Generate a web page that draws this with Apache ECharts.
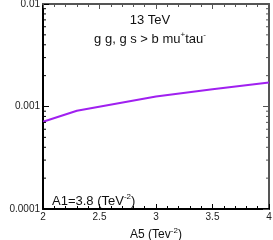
<!DOCTYPE html>
<html><head><meta charset="utf-8">
<script src="https://cdn.jsdelivr.net/npm/echarts@6/dist/echarts.min.js"></script>
<style>html,body{margin:0;padding:0;background:#fff}#c{width:273px;height:240px}</style>
</head><body><div id="c"></div>
<script>
const xValues = [2, 2.3, 3, 3.5, 4];
const sigma = [0.00071, 0.00091, 0.00125, 0.00147, 0.00171];
const yMinorTicks = [0.0002,0.0003,0.0004,0.0005,0.0006,0.0007,0.0008,0.0009,0.002,0.003,0.004,0.005,0.006,0.007,0.008,0.009];
const titleLine1 = '13 TeV';
const FONT = "'Liberation Sans', Arial, sans-serif";

const chart = echarts.init(document.getElementById('c'), null, {renderer: 'canvas'});
const sup = {fontSize: 8, padding: [0, 0, 8, 0], fontFamily: FONT, color: '#111'};

function tickSeries(xv, dir) {
  return {
    type: 'custom', xAxisIndex: 0, yAxisIndex: 0, silent: true, clip: false, z: 5,
    data: yMinorTicks.map(v => [xv, v]),
    renderItem: function (params, api) {
      const p = api.coord([api.value(0), api.value(1)]);
      return {type: 'line', shape: {x1: p[0], y1: p[1], x2: p[0] + dir * 3, y2: p[1]},
        style: {stroke: dir > 0 ? '#000' : '#555', lineWidth: 1}};
    }
  };
}

const option = {
  animation: false,
  textStyle: {fontFamily: FONT},
  grid: {left: 43, right: 4, top: 4, bottom: 31, containLabel: false, outerBoundsMode: 'none'},
  title: [
    {text: titleLine1, left: 145, top: 9, textAlign: 'center',
     textStyle: {fontSize: 13, fontWeight: 'normal', color: '#111', fontFamily: FONT}},
    {text: 'g g, g s > b mu{s|+}tau{s|-}', left: 145, top: 26, textAlign: 'center',
     textStyle: {fontSize: 13, fontWeight: 'normal', color: '#111', fontFamily: FONT, rich: {s: sup}}},
    {text: 'A1=3.8 (TeV{s|-2})', left: 47, top: 188,
     textStyle: {fontSize: 13, fontWeight: 'normal', color: '#111', fontFamily: FONT, rich: {s: sup}}}
  ],
  xAxis: [
    {type: 'value', min: 2, max: 4, interval: 0.5, position: 'bottom',
     name: 'A5 (Tev{s|-2})', nameLocation: 'middle', nameGap: 18,
     nameTextStyle: {fontSize: 12, color: '#111', fontFamily: FONT, rich: {s: sup}},
     axisLine: {show: true, lineStyle: {color: '#000', width: 2}},
     axisTick: {show: true, inside: true, length: 5, lineStyle: {color: '#000'}},
     minorTick: {show: true, splitNumber: 5, length: 3, lineStyle: {color: '#000'}},
     splitLine: {show: false},
     axisLabel: {fontSize: 10, color: '#222', margin: 3, fontFamily: FONT}},
    {type: 'value', min: 2, max: 4, interval: 0.5, position: 'top',
     axisLine: {show: true, lineStyle: {color: '#555', width: 2}},
     axisTick: {show: true, inside: true, length: 5, lineStyle: {color: '#555'}},
     minorTick: {show: true, splitNumber: 5, length: 3, lineStyle: {color: '#555'}},
     splitLine: {show: false}, axisLabel: {show: false}}
  ],
  yAxis: [
    {type: 'log', logBase: 10, min: 0.0001, max: 0.01, position: 'left',
     name: 'σ  (pb)', nameLocation: 'middle', nameGap: 31, nameRotate: 90,
     nameTextStyle: {fontSize: 12, color: '#111', fontFamily: FONT, padding: [0, 0, 0, 30]},
     axisLine: {show: true, lineStyle: {color: '#000', width: 2}},
     axisTick: {show: true, inside: true, length: 6, lineStyle: {color: '#000'}},
     splitLine: {show: false},
     axisLabel: {fontSize: 10, color: '#222', margin: 3, fontFamily: FONT,
       formatter: v => String(Number(v.toPrecision(1)))}},
    {type: 'log', logBase: 10, min: 0.0001, max: 0.01, position: 'right',
     axisLine: {show: true, lineStyle: {color: '#555', width: 2}},
     axisTick: {show: true, inside: true, length: 6, lineStyle: {color: '#555'}},
     splitLine: {show: false}, axisLabel: {show: false}}
  ],
  series: [
    {type: 'line', xAxisIndex: 0, yAxisIndex: 0, data: xValues.map((x, i) => [x, sigma[i]]),
     showSymbol: false, symbol: 'none', lineStyle: {color: '#a020f0', width: 2}, silent: true},
    tickSeries(2, 1),
    tickSeries(4, -1)
  ]
};
chart.setOption(option);
</script></body></html>
